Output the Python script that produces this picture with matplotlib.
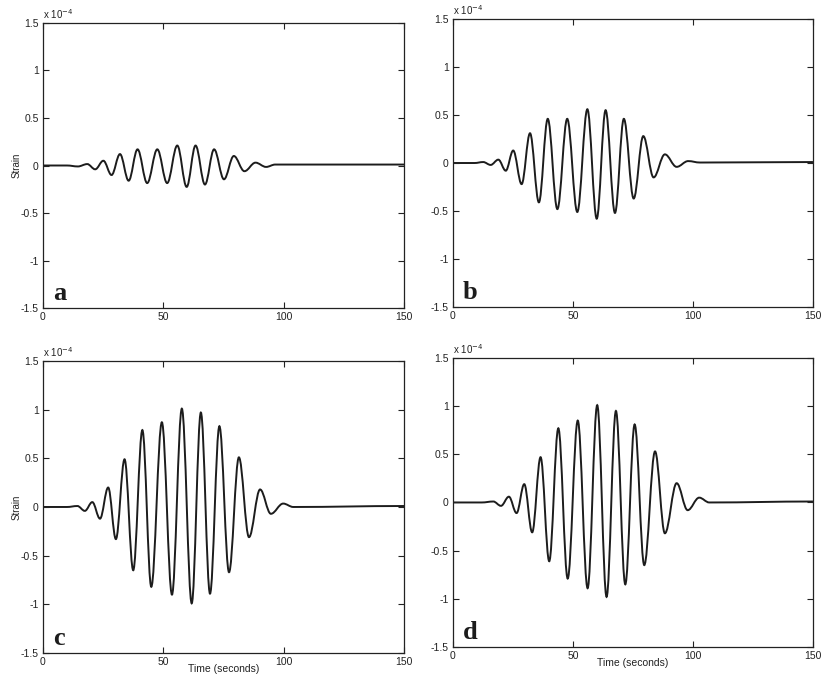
import matplotlib
matplotlib.use('AGG')
import matplotlib.pyplot as plt
from matplotlib.path import Path
from matplotlib.patches import PathPatch

# extrema: time (s), strain (x 1e-4)
t_a = [0, 10, 14.5, 18.4, 21.7, 25.1, 28.5, 32.0, 35.6, 39.3, 43.3, 47.5, 51.6, 55.8, 59.7,
       63.4, 67.3, 71.1, 75.2, 79.3, 83.7, 88.3, 92.7, 96.5, 150]
v_a = [0, 0.0, -0.01, 0.015, -0.04, 0.05, -0.10, 0.12, -0.16, 0.17, -0.185, 0.17, -0.185, 0.21, -0.225,
       0.21, -0.20, 0.17, -0.145, 0.10, -0.06, 0.03, -0.015, 0.01, 0.01]

t_b = [0, 9, 12.6, 15.7, 18.9, 22.0, 25.1, 28.6, 32.1, 35.8, 39.5, 43.5, 47.6, 51.8, 56.0,
       59.9, 63.6, 67.5, 71.2, 75.3, 79.3, 83.6, 88.3, 93.2, 98.0, 102.9, 150]
v_b = [0, 0, 0.01, -0.02, 0.035, -0.08, 0.13, -0.22, 0.31, -0.41, 0.46, -0.48, 0.46, -0.51, 0.56,
       -0.58, 0.55, -0.52, 0.46, -0.37, 0.28, -0.15, 0.09, -0.04, 0.02, 0.005, 0.01]

t_c = [0, 10, 14.3, 17.4, 20.5, 23.7, 27.1, 30.3, 33.9, 37.5, 41.3, 45.0, 49.4, 53.6, 57.7,
       61.8, 65.6, 69.4, 73.3, 77.3, 81.4, 85.6, 90.2, 94.7, 99.8, 104, 150]
v_c = [0, 0, 0.01, -0.04, 0.05, -0.12, 0.20, -0.33, 0.49, -0.65, 0.79, -0.82, 0.87, -0.90, 1.01,
       -0.99, 0.97, -0.89, 0.83, -0.67, 0.51, -0.31, 0.18, -0.07, 0.035, 0.0, 0.01]

t_d = [0, 12, 16.8, 20.0, 23.3, 26.5, 29.7, 33.0, 36.5, 40.1, 43.9, 47.8, 52.0, 56.1, 60.1,
       64.0, 67.9, 71.8, 75.7, 79.7, 84.2, 88.3, 93.2, 97.8, 102.6, 106.8, 150]
v_d = [0, 0, 0.01, -0.035, 0.06, -0.11, 0.19, -0.31, 0.47, -0.61, 0.77, -0.79, 0.85, -0.89, 1.01,
       -0.98, 0.95, -0.85, 0.81, -0.65, 0.53, -0.32, 0.20, -0.08, 0.05, 0.0, 0.01]

panel_labels = ['a', 'b', 'c', 'd']
x_ticks = [0, 50, 100, 150]
y_ticks = [-1.5, -1, -0.5, 0, 0.5, 1, 1.5]


def wave_path(times, values, k=0.364):
    # smooth curve through the extrema (horizontal tangent at each one)
    verts = [(times[0], values[0])]
    codes = [Path.MOVETO]
    for ind in range(1, len(times)):
        t0, t1 = times[ind - 1], times[ind]
        dt = t1 - t0
        verts += [(t0 + k * dt, values[ind - 1]), (t1 - k * dt, values[ind]), (t1, values[ind])]
        codes += [Path.CURVE4] * 3
    return Path(verts, codes)


def main():
    plt.rcParams['font.family'] = ['Liberation Sans', 'DejaVu Sans']
    plt.rcParams['axes.unicode_minus'] = False

    fig = plt.figure(figsize=(8.23, 6.74), dpi=100)
    rects = [[0.0522, 0.5430, 0.4387, 0.4229],
             [0.5504, 0.5445, 0.4374, 0.4273],
             [0.0522, 0.0312, 0.4387, 0.4332],
             [0.5504, 0.0401, 0.4374, 0.4288]]
    data = [(t_a, v_a), (t_b, v_b), (t_c, v_c), (t_d, v_d)]

    for ind, (rect, (t, v)) in enumerate(zip(rects, data)):
        ax = fig.add_axes(rect)
        ax.add_patch(PathPatch(wave_path(t, v), facecolor='none', edgecolor='#1c1c1c', lw=1.4))
        ax.set_xlim(0, 150)
        ax.set_ylim(-1.5, 1.5)
        ax.set_xticks(x_ticks)
        ax.set_yticks(y_ticks)
        ax.set_xticklabels(['%g' % x for x in x_ticks])
        ax.set_yticklabels(['%g' % y for y in y_ticks])
        ax.tick_params(direction='in', top=True, right=True, length=4, width=0.8,
                       labelsize=7.5, pad=3, colors='#222222')
        for sp in ax.spines.values():
            sp.set_linewidth(0.9)
            sp.set_color('#222222')
        ax.text(0.0, 1.008, r'x 10$^{-4}$', transform=ax.transAxes, fontsize=7,
                ha='left', va='bottom', color='#222222')
        ax.text(0.028, 0.028, panel_labels[ind], transform=ax.transAxes, fontsize=19,
                fontweight='bold', family=['Liberation Serif', 'DejaVu Serif'],
                ha='left', va='baseline', color='#1c1c1c')
        if ind % 2 == 0:
            ax.text(-0.072, 0.5, 'Strain', transform=ax.transAxes, rotation=90,
                    fontsize=7, ha='center', va='center', color='#222222')
        if ind >= 2:
            ax.text(0.5, -0.055, 'Time (seconds)', transform=ax.transAxes,
                    fontsize=7.5, ha='center', va='center', color='#222222')

    fig.savefig('out.png', dpi=100, facecolor='white')


if "__main__" in __name__:
    main()
